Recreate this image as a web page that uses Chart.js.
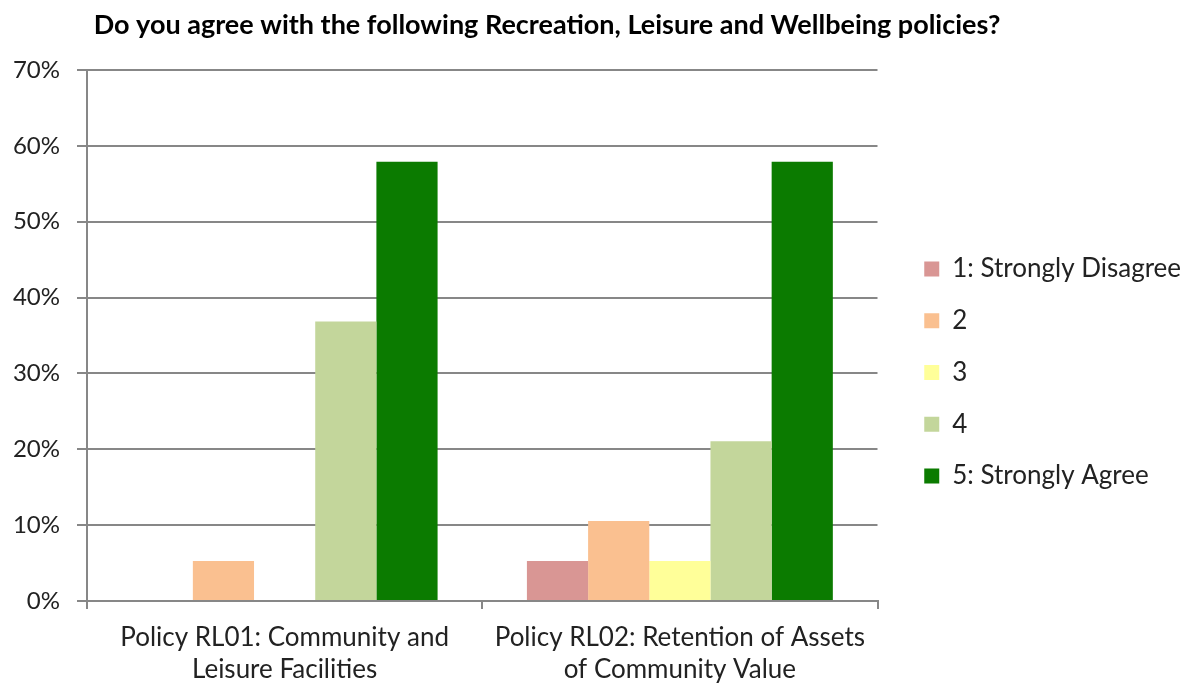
<!DOCTYPE html>
<html lang="en">
<head>
	<title>Recreation, Leisure and Wellbeing policies</title>
	<meta charset="utf-8">
	<script src="https://cdn.jsdelivr.net/npm/chart.js@4.4.1/dist/chart.umd.min.js"></script>
	<style type="text/css">
		html, body {
			margin: 0;
			padding: 0;
			background: #ffffff;
		}
		#chart-box {
			position: relative;
			width: 1189px;
			height: 687px;
		}
	</style>
</head>
<body>
<div id="chart-box">
	<canvas id="policy-canvas"></canvas>
</div>
<script type="text/javascript">
	// chart title
	var chartTitle = "Do you agree with the following Recreation, Leisure and Wellbeing policies?";
	// categories (two-line labels)
	var policies = [
		["Policy RL01: Community and", "Leisure Facilities"],
		["Policy RL02: Retention of Assets", "of Community Value"]
	];
	// answer levels (series)
	var answers = ["1: Strongly Disagree", "2", "3", "4", "5: Strongly Agree"];
	// percent of responses per answer, one value per policy
	var stronglyDisagree = [0, 5.26];
	var disagree = [5.26, 10.53];
	var neutral = [0, 5.26];
	var agree = [36.84, 21.05];
	var stronglyAgree = [57.89, 57.89];
	// y axis ticks
	var yMax = 70;
	var yStep = 10;

	var seriesValues = [stronglyDisagree, disagree, neutral, agree, stronglyAgree];
	var seriesColors = ["#d99694", "#fac090", "#ffff99", "#c3d69b", "#0b7b00"];

	var fontFamily = "Lato, 'Open Sans', sans-serif";
	var gridColor = "#878787";
	var textColor = "#222222";

	var datasets = [];
	for (var i = 0; i < answers.length; i++) {
		datasets.push({
			label: answers[i],
			data: seriesValues[i],
			backgroundColor: seriesColors[i],
			borderWidth: 0,
			categoryPercentage: 0.774,
			barPercentage: 1.0
		});
	}

	// title drawn above the plot, centred where the original one sits
	var titlePlugin = {
		id: "policyTitle",
		afterDraw: function(chart) {
			var ctx = chart.ctx;
			ctx.save();
			ctx.font = "bold 27px " + fontFamily;
			ctx.fillStyle = "#000000";
			ctx.textAlign = "center";
			ctx.textBaseline = "middle";
			ctx.fillText(chartTitle, 547, 25);
			ctx.restore();
		}
	};

	// push the legend a little away from the plot area
	var legendGapPlugin = {
		id: "legendGap",
		afterLayout: function(chart) {
			if (chart.legend) {
				chart.legend.left += 21;
				chart.legend.right += 21;
			}
		}
	};

	var ctx = document.querySelector("#policy-canvas").getContext("2d");
	var policyChart = new Chart(ctx, {
		type: "bar",
		data: {
			labels: policies,
			datasets: datasets
		},
		plugins: [titlePlugin, legendGapPlugin],
		options: {
			responsive: true,
			maintainAspectRatio: false,
			animation: false,
			layout: {
				padding: { top: 70, right: 19, bottom: 0, left: 0 }
			},
			plugins: {
				tooltip: { enabled: false },
				title: { display: false },
				legend: {
					position: "right",
					fullSize: false,
					title: {
						display: true,
						text: " ",
						font: { size: 10 },
						padding: { top: 31, bottom: 31 }
					},
					labels: {
						boxWidth: 15,
						boxHeight: 15,
						padding: 25.75,
						color: textColor,
						font: { family: fontFamily, size: 26 }
					}
				}
			},
			scales: {
				x: {
					grid: {
						drawOnChartArea: false,
						color: gridColor,
						lineWidth: 2,
						tickLength: 8,
						offset: true
					},
					border: { color: gridColor, width: 2 },
					ticks: {
						color: textColor,
						padding: 13,
						maxRotation: 0,
						font: { family: fontFamily, size: 26, lineHeight: 1.23 }
					},
					afterFit: function(scale) {
						scale.height = 86;
					}
				},
				y: {
					min: 0,
					max: yMax,
					grid: {
						color: gridColor,
						lineWidth: 2,
						tickLength: 10
					},
					border: { color: gridColor, width: 2 },
					ticks: {
						stepSize: yStep,
						color: textColor,
						padding: 17,
						font: { family: fontFamily, size: 24 },
						callback: function(value) {
							return value + "%";
						}
					},
					afterFit: function(scale) {
						scale.width = 87;
					}
				}
			}
		}
	});
</script>
</body>
</html>
